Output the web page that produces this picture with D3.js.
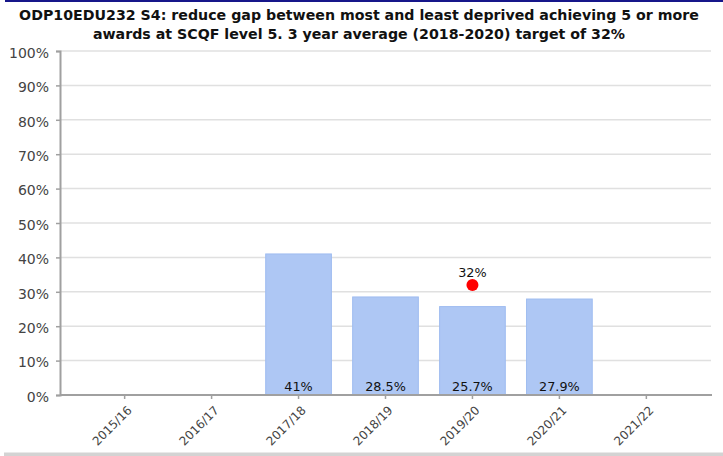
<!DOCTYPE html>
<html>
<head>
<meta charset="utf-8">
<script src="https://cdn.jsdelivr.net/npm/d3@7"></script>
<style>
  html, body { margin: 0; padding: 0; background: #fff; }
  svg { display: block; }
</style>
</head>
<body>
<script>
const titleLines = [
  "ODP10EDU232 S4: reduce gap between most and least deprived achieving 5 or more",
  "awards at SCQF level 5. 3 year average (2018-2020) target of 32%"
];
const categories = ["2015/16", "2016/17", "2017/18", "2018/19", "2019/20", "2020/21", "2021/22"];
const values = [null, null, 41, 28.5, 25.7, 27.9, null];
const valueLabels = [null, null, "41%", "28.5%", "25.7%", "27.9%", null];
const targetCategories = ["2019/20"];
const targetValues = [32];
const targetLabels = ["32%"];
const yTicks = [0, 10, 20, 30, 40, 50, 60, 70, 80, 90, 100];

const W = 723, H = 456;
const margin = { left: 60, right: 12, top: 51, bottom: 61 };

const svg = d3.select("body").append("svg").attr("width", W).attr("height", H);

// frame decorations
svg.append("rect").attr("x", 5).attr("y", 0).attr("width", W - 5).attr("height", 2).attr("fill", "#16168a");
svg.append("rect").attr("x", 4).attr("y", 452.5).attr("width", W - 4).attr("height", 3.5).attr("fill", "#d3d3d3");

// title
const title = svg.append("text")
  .attr("text-anchor", "middle")
  .attr("font-family", "'DejaVu Sans', Verdana, sans-serif")
  .attr("font-weight", "bold")
  .attr("font-size", 14.2)
  .attr("fill", "#111");
titleLines.forEach((t, i) => {
  title.append("tspan").attr("x", 359).attr("y", 20 + i * 18.5).text(t);
});

const x = d3.scaleBand()
  .domain(categories)
  .range([margin.left, W - margin.right])
  .paddingInner(0.233)
  .paddingOuter(0.36);

const y = d3.scaleLinear().domain([0, 100]).range([H - margin.bottom, margin.top]);

// gridlines
svg.append("g").selectAll("line").data(yTicks.filter(d => d > 0)).join("line")
  .attr("x1", margin.left).attr("x2", W - margin.right)
  .attr("y1", d => y(d)).attr("y2", d => y(d))
  .attr("stroke", "#e0e0e0").attr("stroke-width", 1.5);

// bars
const barData = categories.map((c, i) => ({ c, v: values[i], l: valueLabels[i] })).filter(d => d.v != null);
svg.append("g").selectAll("rect").data(barData).join("rect")
  .attr("x", d => x(d.c) + 0.5)
  .attr("y", d => y(d.v))
  .attr("width", x.bandwidth() - 1)
  .attr("height", d => y(0) - y(d.v))
  .attr("fill", "#aec7f4")
  .attr("stroke", "#9fbcf0")
  .attr("stroke-width", 1);

svg.append("g").selectAll("text").data(barData).join("text")
  .attr("x", d => x(d.c) + x.bandwidth() / 2)
  .attr("y", y(0) - 4.5)
  .attr("text-anchor", "middle")
  .attr("font-family", "'DejaVu Sans', Verdana, sans-serif")
  .attr("font-size", 12.8)
  .attr("fill", "#111")
  .text(d => d.l);

// y axis
const yAxis = svg.append("g")
  .attr("transform", `translate(${margin.left},0)`)
  .call(d3.axisLeft(y).tickValues(yTicks).tickFormat(d => d + "%").tickSize(4).tickPadding(7));
yAxis.select(".domain").attr("stroke", "#a0a0a0").attr("stroke-width", 2);
yAxis.selectAll(".tick line").attr("stroke", "#a0a0a0").attr("stroke-width", 1.5);
yAxis.selectAll(".tick text")
  .attr("font-family", "'DejaVu Sans', Verdana, sans-serif")
  .attr("font-size", 14)
  .attr("fill", "#444")
  .attr("dy", "0.45em");

// x axis
const xAxis = svg.append("g")
  .attr("transform", `translate(0,${y(0)})`)
  .call(d3.axisBottom(x).tickSize(4).tickSizeOuter(0));
xAxis.select(".domain").attr("stroke", "#a0a0a0").attr("stroke-width", 2)
  .attr("d", `M${margin.left},0H${W - margin.right + 1}`);
xAxis.selectAll(".tick line").attr("stroke", "#a0a0a0").attr("stroke-width", 1.5);
xAxis.selectAll(".tick text")
  .attr("font-family", "'DejaVu Sans', Verdana, sans-serif")
  .attr("font-size", 12)
  .attr("fill", "#444")
  .attr("text-anchor", "end")
  .attr("dy", null)
  .attr("y", 0)
  .attr("transform", "translate(8,16) rotate(-45)");

// target points
const targetData = targetCategories.map((c, i) => ({ c, v: targetValues[i], l: targetLabels[i] }));
svg.append("g").selectAll("circle").data(targetData).join("circle")
  .attr("cx", d => x(d.c) + x.bandwidth() / 2)
  .attr("cy", d => y(d.v))
  .attr("r", 6)
  .attr("fill", "#ff0000");
svg.append("g").selectAll("text").data(targetData).join("text")
  .attr("x", d => x(d.c) + x.bandwidth() / 2)
  .attr("y", d => y(d.v) - 8)
  .attr("text-anchor", "middle")
  .attr("font-family", "'DejaVu Sans', Verdana, sans-serif")
  .attr("font-size", 12.8)
  .attr("fill", "#111")
  .text(d => d.l);
</script>
</body>
</html>
